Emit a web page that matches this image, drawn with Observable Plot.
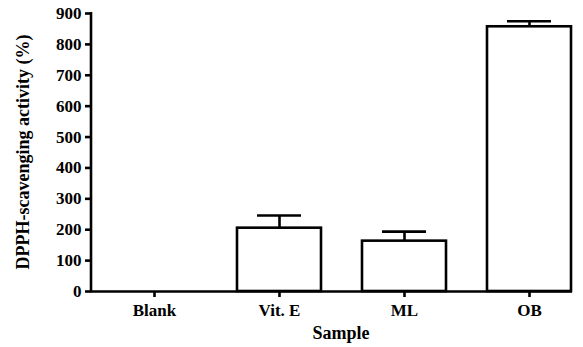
<!DOCTYPE html>
<html>
<head>
<meta charset="utf-8">
<script src="https://cdn.jsdelivr.net/npm/d3@7"></script>
<script src="https://cdn.jsdelivr.net/npm/@observablehq/plot@0.6"></script>
<style>
  html, body { margin: 0; padding: 0; background: #fff; }
  #chart svg { display: block; }
</style>
</head>
<body>
<div id="chart"></div>
<script>
// Data
const samples = ["Blank", "Vit. E", "ML", "OB"];
const activity = [0, 205, 163, 857];
const errors = [0, 41, 31, 18];
const yTicks = [0, 100, 200, 300, 400, 500, 600, 700, 800, 900];
const xTitle = "Sample";
const yTitle = "DPPH-scavenging activity (%)";

const data = samples.map((s, i) => ({sample: s, value: activity[i], err: errors[i]}));
const withErr = data.filter(d => d.err > 0);

const W = 583, H = 347;
const mL = 91, mR = 11, mT = 13, mB = 56;
const FONT = "'Liberation Serif', 'Times New Roman', serif";

const plot = Plot.plot({
  width: W,
  height: H,
  marginLeft: mL,
  marginRight: mR,
  marginTop: mT,
  marginBottom: mB,
  style: {fontFamily: FONT, fontSize: "17px", fontWeight: "bold", color: "#000", background: "#fff"},
  x: {domain: samples, range: [mL, 591], paddingInner: 0.33, paddingOuter: 0.165, label: null},
  y: {domain: [0, 900], label: null},
  marks: [
    Plot.barY(data, {x: "sample", y: "value", fill: "#fff", stroke: "#000", strokeWidth: 2.6}),
    Plot.ruleX(withErr, {x: "sample", y1: "value", y2: d => d.value + d.err, stroke: "#000", strokeWidth: 2.6}),
    Plot.tickY(withErr, {x: "sample", y: d => d.value + d.err, stroke: "#000", strokeWidth: 2.6, insetLeft: 20, insetRight: 20}),
    Plot.ruleY([0], {stroke: "#000", strokeWidth: 2.6}),
    Plot.axisY({ticks: yTicks, tickSize: 6, tickPadding: 4, label: null, tickFormat: d => String(d), strokeWidth: 2.6, fontSize: 17, fontFamily: FONT, fontWeight: "bold"}),
    Plot.axisX({tickSize: 6, tickPadding: 6, label: null, strokeWidth: 2.6, fontSize: 17, fontFamily: FONT, fontWeight: "bold"})
  ]
});

const svg = d3.select(plot);
const y = plot.scale("y");
// vertical axis line
svg.append("line")
  .attr("x1", mL).attr("x2", mL)
  .attr("y1", y.apply(0) + 1.3).attr("y2", y.apply(900) - 1)
  .attr("stroke", "#000").attr("stroke-width", 2.6);
// axis titles
svg.append("text")
  .attr("class", "title")
  .attr("x", 341).attr("y", 339)
  .attr("text-anchor", "middle")
  .style("font-size", "18px")
  .text(xTitle);
svg.append("text")
  .attr("class", "title")
  .attr("transform", `translate(23, ${(mT + (H - mB)) / 2}) rotate(-90)`)
  .attr("text-anchor", "middle")
  .attr("dominant-baseline", "central")
  .style("font-size", "18px")
  .text(yTitle);

svg.selectAll("text")
  .style("font-family", FONT)
  .style("font-weight", "bold")
  .style("fill", "#000");
svg.selectAll("text:not(.title)").style("font-size", "17px");

document.getElementById("chart").appendChild(plot);
</script>
</body>
</html>
